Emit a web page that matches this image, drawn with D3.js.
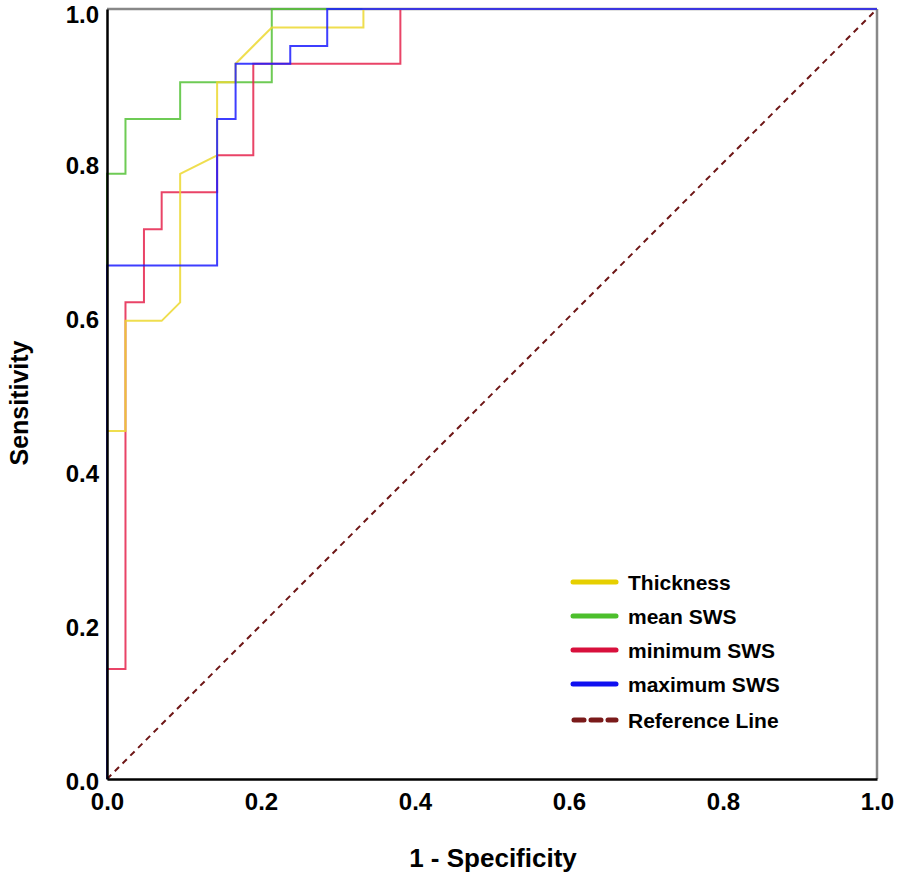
<!DOCTYPE html>
<html>
<head>
<meta charset="utf-8">
<script src="https://cdn.jsdelivr.net/npm/d3@7"></script>
<style>
  html, body { margin: 0; padding: 0; background: #fff; }
  svg { display: block; }
  text { font-family: "Liberation Sans", Arial, sans-serif; font-weight: bold; fill: #000; }
</style>
</head>
<body>
<svg id="chart" width="897" height="881"></svg>
<script>
// ---- data ----
const seriesNames = ["Thickness", "mean SWS", "minimum SWS", "maximum SWS"];
const thicknessX = [0, 0, 0.024, 0.024, 0.071, 0.095, 0.095, 0.143, 0.143, 0.167, 0.167, 0.214, 0.333, 0.333, 1];
const thicknessY = [0, 0.452, 0.452, 0.595, 0.595, 0.619, 0.786, 0.810, 0.905, 0.905, 0.929, 0.976, 0.976, 1, 1];
const meanX = [0, 0, 0.024, 0.024, 0.095, 0.095, 0.214, 0.214, 1];
const meanY = [0, 0.786, 0.786, 0.857, 0.857, 0.905, 0.905, 1, 1];
const minX = [0, 0, 0.024, 0.024, 0.048, 0.048, 0.071, 0.071, 0.143, 0.143, 0.190, 0.190, 0.381, 0.381, 1];
const minY = [0, 0.143, 0.143, 0.619, 0.619, 0.714, 0.714, 0.762, 0.762, 0.810, 0.810, 0.929, 0.929, 1, 1];
const maxX = [0, 0, 0.143, 0.143, 0.167, 0.167, 0.238, 0.238, 0.286, 0.286, 1];
const maxY = [0, 0.667, 0.667, 0.857, 0.857, 0.929, 0.929, 0.952, 0.952, 1, 1];
const refX = [0, 1];
const refY = [0, 1];
const tickValues = [0, 0.2, 0.4, 0.6, 0.8, 1.0];
const xTitle = "1 - Specificity";
const yTitle = "Sensitivity";
const refName = "Reference Line";

// ---- layout ----
const svg = d3.select("#chart");
const L = 107, R = 877, T = 9, B = 779;
const x = d3.scaleLinear().domain([0, 1]).range([L, R]);
const y = d3.scaleLinear().domain([0, 1]).range([B, T]);

const colors = {
  "Thickness": "#ecd830",
  "mean SWS": "#55c237",
  "minimum SWS": "#e5234c",
  "maximum SWS": "#1c1cff"
};
const legendColors = {
  "Thickness": "#e6cf00",
  "mean SWS": "#4cbf2c",
  "minimum SWS": "#d8103c",
  "maximum SWS": "#1010f0"
};
const refColor = "#6e1616";

// frame (top/right gray)
svg.append("line").attr("x1", x(0)).attr("x2", x(1)).attr("y1", y(1)).attr("y2", y(1))
  .attr("stroke", "#888").attr("stroke-width", 2.5);
svg.append("line").attr("x1", x(1)).attr("x2", x(1)).attr("y1", y(1)).attr("y2", y(0))
  .attr("stroke", "#888").attr("stroke-width", 2.5);

// reference line
const line = d3.line().x(d => x(d[0])).y(d => y(d[1]));
svg.append("path").datum(d3.zip(refX, refY)).attr("d", line)
  .attr("fill", "none").attr("stroke", refColor).attr("stroke-width", 2)
  .attr("stroke-dasharray", "6,5");

// curves (draw order: mean, minimum, thickness, maximum)
const curveData = {
  "Thickness": d3.zip(thicknessX, thicknessY),
  "mean SWS": d3.zip(meanX, meanY),
  "minimum SWS": d3.zip(minX, minY),
  "maximum SWS": d3.zip(maxX, maxY)
};
["mean SWS", "minimum SWS", "Thickness", "maximum SWS"].forEach(name => {
  svg.append("path").datum(curveData[name]).attr("d", line)
    .attr("fill", "none").attr("stroke", colors[name]).attr("stroke-width", 2)
    .attr("stroke-opacity", 0.85);
});

// axes (drawn over the curves, like the reference)
const xAxis = d3.axisBottom(x).tickValues(tickValues).tickSize(0).tickPadding(0)
  .tickFormat(d3.format(".1f"));
const yAxis = d3.axisLeft(y).tickValues(tickValues).tickSize(0).tickPadding(0)
  .tickFormat(d3.format(".1f"));

const gx = svg.append("g").attr("transform", `translate(0,${B})`).call(xAxis);
gx.select(".domain").attr("stroke", "#000").attr("stroke-width", 2.5);
gx.selectAll("text").attr("font-size", 24).attr("dy", null).attr("y", 31)
  .style("font-family", '"Liberation Sans", Arial, sans-serif').style("font-weight", "bold").attr("fill", "#000");

const gy = svg.append("g").attr("transform", `translate(${L},0)`).call(yAxis);
gy.select(".domain").attr("stroke", "#000").attr("stroke-width", 2.5);
gy.selectAll("text").attr("font-size", 24).attr("x", -8)
  .attr("dy", d => d === 1 ? "0.56em" : "0.42em")
  .style("font-family", '"Liberation Sans", Arial, sans-serif').style("font-weight", "bold").attr("fill", "#000");

// axis titles
svg.append("text").attr("x", (L + R) / 2 + 1).attr("y", 867).attr("text-anchor", "middle")
  .attr("font-size", 26).text(xTitle);
svg.append("text").attr("transform", `translate(28,${(T + B) / 2 + 9}) rotate(-90)`)
  .attr("text-anchor", "middle").attr("font-size", 25).text(yTitle);

// legend
const legendY = [582, 616, 650, 684];
const lg = svg.append("g");
seriesNames.forEach((name, i) => {
  lg.append("line").attr("x1", 573).attr("x2", 616).attr("y1", legendY[i]).attr("y2", legendY[i])
    .attr("stroke", legendColors[name]).attr("stroke-width", 5).attr("stroke-linecap", "round");
  lg.append("text").attr("x", 628).attr("y", legendY[i]).attr("dy", "0.36em")
    .attr("font-size", 21).text(name);
});
lg.append("line").attr("x1", 574).attr("x2", 616).attr("y1", 720).attr("y2", 720)
  .attr("stroke", "#7a1a1a").attr("stroke-width", 5).attr("stroke-linecap", "round")
  .attr("stroke-dasharray", "10,7");
lg.append("text").attr("x", 628).attr("y", 720).attr("dy", "0.36em")
  .attr("font-size", 21).text(refName);
</script>
</body>
</html>
